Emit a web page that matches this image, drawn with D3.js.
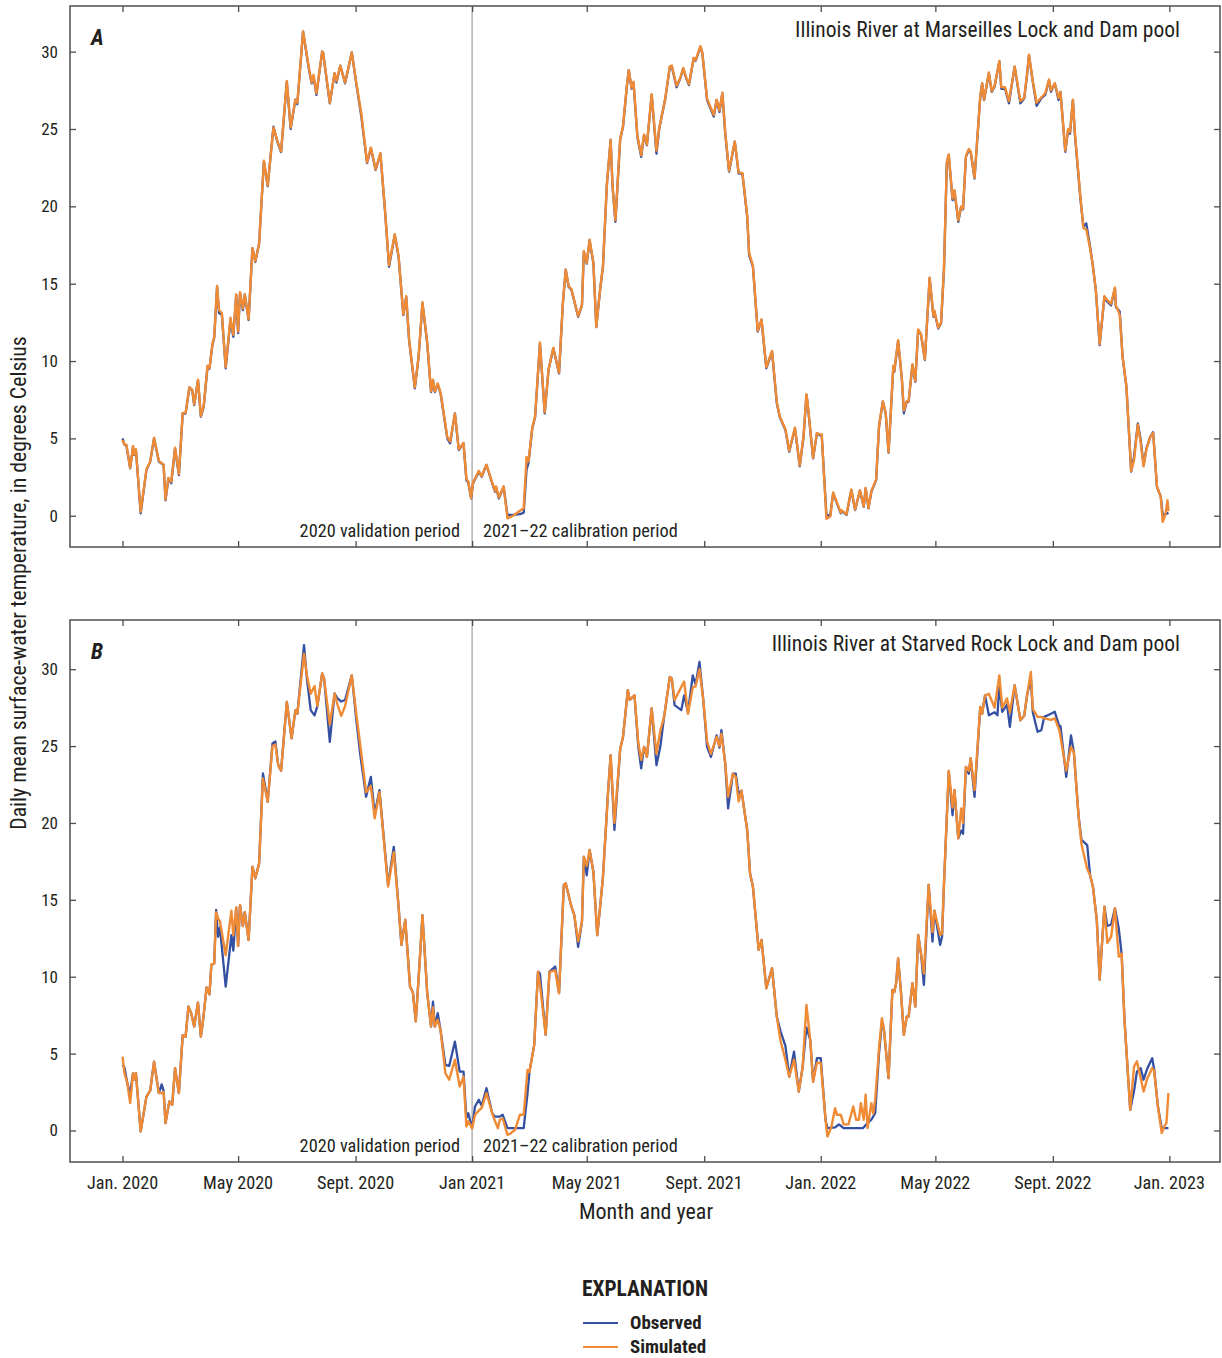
<!DOCTYPE html>
<html>
<head>
<meta charset="utf-8">
<script src="https://cdn.jsdelivr.net/npm/d3@7"></script>
<style>
  body { margin: 0; background: #fff; }
  svg { display: block; }
  text { font-family: "Liberation Sans Narrow", "Roboto Condensed", "DejaVu Sans Condensed", Roboto, sans-serif; font-stretch: condensed; fill: #231f20; }
</style>
</head>
<body>
<svg id="chart" width="1222" height="1358"></svg>
<script>
// ---------------- DATA ----------------
// day offsets from 2020-01-01, value in degrees Celsius
const baseDate = "2020-01-01";
const tickDates = ["2020-01-01","2020-05-01","2020-09-01","2021-01-01","2021-05-01","2021-09-01","2022-01-01","2022-05-01","2022-09-01","2023-01-01"];
const tickLabels = ["Jan. 2020","May 2020","Sept. 2020","Jan 2021","May 2021","Sept. 2021","Jan. 2022","May 2022","Sept. 2022","Jan. 2023"];
const yTicks = [0,5,10,15,20,25,30];
const periodSplit = "2021-01-01";
const panelTitles = ["Illinois River at Marseilles Lock and Dam pool", "Illinois River at Starved Rock Lock and Dam pool"];
const panelLetters = ["A","B"];
const seriesNames = ["Observed","Simulated"];

const aObs = [[0,5.0],[2,4.6],[4,4.55],[8,3.06],[11,4.46],[12,3.92],[14,4.25],[19,0.15],[25,2.95],[29,3.5],[33,5.0],[38,3.5],[43,3.28],[45,1.0],[48,2.4],[51,2.1],[55,4.35],[59,2.63],[63,6.6],[66,6.6],[70,8.3],[73,8.1],[75,7.15],[79,8.77],[82,6.4],[85,7.05],[89,9.63],[91,9.5],[94,11.0],[96,11.5],[99,14.8],[101,13.1],[104,13.0],[108,9.53],[113,12.65],[116,11.57],[119,14.27],[121,11.8],[123,14.4],[126,13.3],[128,14.3],[132,12.65],[136,17.3],[139,16.4],[143,17.6],[148,22.9],[152,21.3],[158,25.15],[162,24.2],[166,23.5],[172,28.05],[176,25.0],[181,26.9],[183,26.6],[189,31.3],[195,28.9],[198,27.95],[200,28.4],[203,27.2],[209,30.0],[210,29.9],[217,26.66],[222,28.6],[224,28.0],[228,29.1],[233,27.95],[240,29.95],[245,27.8],[250,25.8],[256,22.8],[260,23.75],[265,22.35],[270,23.4],[275,19.55],[279,16.1],[285,18.15],[289,16.75],[294,12.97],[297,14.15],[300,11.35],[306,8.23],[310,10.28],[314,13.73],[319,11.14],[323,8.0],[325,8.77],[327,8.0],[330,8.5],[333,7.9],[340,5.0],[343,4.68],[348,6.62],[352,4.25],[357,4.68],[360,2.3],[362,2.15],[365,1.12],[367,2.1],[373,2.85],[376,2.52],[381,3.28],[387,2.1],[390,1.55],[391,1.85],[394,1.12],[399,1.87],[403,0.05],[409,0.05],[416,0.1],[420,0.2],[423,3.0],[425,3.4],[429,5.65],[432,6.4],[437,11.14],[442,6.62],[446,9.42],[451,10.82],[457,9.2],[461,13.73],[464,15.9],[467,14.8],[470,14.6],[477,12.86],[481,13.6],[483,17.07],[486,16.3],[489,17.8],[493,16.3],[496,12.2],[500,14.6],[503,16.1],[507,21.3],[511,24.3],[513,21.3],[516,19.0],[521,24.3],[524,25.15],[528,27.73],[530,28.8],[533,27.6],[535,28.0],[539,24.5],[543,23.2],[546,24.6],[549,23.96],[554,27.2],[559,23.4],[562,25.05],[568,26.87],[573,29.0],[575,29.05],[580,27.7],[584,28.27],[587,28.9],[590,28.3],[593,27.84],[598,29.57],[600,29.4],[605,30.3],[607,29.9],[612,26.87],[615,26.4],[619,25.8],[622,26.87],[625,26.1],[628,27.3],[631,24.7],[635,22.24],[641,24.18],[645,22.13],[649,22.1],[654,19.33],[656,16.85],[660,16.1],[665,11.9],[669,12.65],[674,9.53],[680,10.6],[685,7.27],[688,6.4],[694,5.54],[698,4.14],[704,5.65],[709,3.2],[713,5.1],[716,7.8],[717,7.4],[723,3.71],[727,5.33],[730,5.2],[732,5.22],[737,0.0],[741,0.05],[744,1.45],[748,0.8],[752,0.15],[753,0.3],[758,0.05],[763,1.66],[767,0.37],[772,1.62],[776,0.58],[778,1.77],[781,0.48],[784,1.55],[789,2.3],[792,5.75],[796,7.37],[799,6.62],[802,4.07],[807,9.63],[808,9.3],[812,11.3],[816,8.77],[818,6.62],[821,7.37],[823,7.37],[827,9.74],[830,8.66],[833,12.0],[836,11.7],[840,10.06],[845,15.35],[849,12.86],[850,13.2],[854,12.1],[857,12.45],[860,15.9],[863,22.8],[865,23.3],[869,20.4],[871,21.0],[875,19.0],[878,19.97],[880,19.8],[883,23.2],[886,23.64],[888,23.5],[892,21.8],[898,27.08],[900,27.95],[902,26.87],[907,28.6],[910,27.4],[913,27.75],[918,29.35],[920,27.6],[924,27.6],[928,26.66],[934,29.02],[940,26.66],[944,26.97],[947,28.5],[949,29.78],[953,28.05],[957,26.5],[962,27.0],[966,27.2],[970,28.16],[972,27.4],[976,27.95],[980,26.87],[982,27.4],[987,23.53],[990,24.93],[992,24.7],[995,26.87],[997,24.7],[1003,20.4],[1006,18.68],[1009,18.9],[1013,17.39],[1016,16.1],[1019,14.59],[1023,11.03],[1028,14.15],[1030,13.9],[1035,13.6],[1039,14.7],[1040,13.5],[1044,13.2],[1047,10.28],[1051,8.34],[1056,2.85],[1059,3.82],[1063,5.97],[1066,4.9],[1069,3.28],[1072,4.36],[1076,5.1],[1079,5.4],[1083,1.87],[1087,1.23],[1089,0.05],[1092,0.1],[1094,0.15],[1095,0.2]];

const aSim = [[0,4.9],[2,4.6],[4,4.6],[8,3.1],[11,4.5],[12,3.95],[14,4.3],[19,0.25],[25,3.0],[29,3.5],[33,5.05],[38,3.55],[43,3.3],[45,1.05],[48,2.45],[51,2.2],[55,4.4],[59,2.7],[63,6.65],[66,6.65],[70,8.3],[73,8.15],[75,7.2],[79,8.8],[82,6.45],[85,7.1],[89,9.7],[91,9.55],[94,11.05],[96,11.55],[99,14.85],[101,13.3],[104,13.1],[108,9.6],[113,12.8],[116,11.7],[119,14.3],[121,11.9],[123,14.45],[126,13.4],[128,14.3],[132,12.7],[136,17.3],[139,16.45],[143,17.6],[148,22.95],[152,21.35],[158,25.1],[162,24.25],[166,23.55],[172,28.1],[176,25.1],[181,26.9],[183,26.7],[189,31.3],[195,29.0],[198,28.0],[200,28.5],[203,27.3],[209,30.0],[210,29.95],[217,26.7],[222,28.6],[224,28.1],[228,29.1],[233,28.0],[240,29.95],[245,27.9],[250,26.0],[256,22.85],[260,23.8],[265,22.4],[270,23.45],[275,19.6],[279,16.2],[285,18.2],[289,16.8],[294,13.0],[297,14.2],[300,11.4],[306,8.3],[310,10.3],[314,13.8],[319,11.2],[323,8.05],[325,8.8],[327,8.05],[330,8.55],[333,7.95],[340,5.1],[343,4.8],[348,6.6],[352,4.3],[357,4.7],[360,2.4],[362,2.2],[365,1.15],[367,2.15],[373,2.9],[376,2.55],[381,3.3],[387,2.15],[390,1.6],[391,1.9],[394,1.2],[399,1.9],[403,-0.17],[409,0.0],[416,0.32],[420,0.48],[423,3.8],[425,3.5],[429,5.7],[432,6.45],[437,11.2],[442,6.7],[446,9.45],[451,10.85],[457,9.25],[461,13.75],[464,15.9],[467,14.85],[470,14.65],[477,12.9],[481,13.65],[483,17.1],[486,16.35],[489,17.85],[493,16.35],[496,12.2],[500,14.65],[503,16.15],[507,21.35],[511,24.3],[513,21.35],[516,19.1],[521,24.35],[524,25.2],[528,27.8],[530,28.8],[533,27.65],[535,28.05],[539,24.6],[543,23.3],[546,24.65],[549,24.0],[554,27.25],[559,23.6],[562,25.1],[568,26.9],[573,29.05],[575,29.1],[580,27.8],[584,28.3],[587,28.95],[590,28.35],[593,27.9],[598,29.6],[600,29.45],[605,30.35],[607,29.95],[612,26.95],[615,26.5],[619,25.9],[622,26.9],[625,26.2],[628,27.35],[631,24.8],[635,22.3],[641,24.2],[645,22.2],[649,22.15],[654,19.4],[656,17.0],[660,16.15],[665,11.95],[669,12.7],[674,9.6],[680,10.65],[685,7.35],[688,6.45],[694,5.6],[698,4.2],[704,5.7],[709,3.25],[713,5.15],[716,7.85],[717,7.45],[723,3.75],[727,5.35],[730,5.25],[732,5.25],[737,-0.2],[741,-0.05],[744,1.5],[748,0.85],[752,0.2],[753,0.35],[758,0.1],[763,1.7],[767,0.4],[772,1.65],[776,0.6],[778,1.8],[781,0.5],[784,1.6],[789,2.35],[792,5.8],[796,7.4],[799,6.65],[802,4.1],[807,9.7],[808,9.35],[812,11.35],[816,8.8],[818,6.8],[821,7.4],[823,7.4],[827,9.8],[830,8.7],[833,12.05],[836,11.75],[840,10.1],[845,15.4],[849,12.9],[850,13.25],[854,12.15],[857,12.5],[860,15.95],[863,22.85],[865,23.35],[869,20.5],[871,21.05],[875,19.1],[878,20.0],[880,19.85],[883,23.25],[886,23.7],[888,23.55],[892,21.85],[898,27.1],[900,27.95],[902,26.9],[907,28.65],[910,27.45],[913,27.8],[918,29.4],[920,27.7],[924,27.7],[928,26.8],[934,29.05],[940,26.8],[944,27.0],[947,28.55],[949,29.8],[953,28.1],[957,26.7],[962,27.05],[966,27.3],[970,28.2],[972,27.5],[976,27.95],[980,27.0],[982,27.4],[987,23.6],[990,25.0],[992,24.8],[995,26.9],[997,24.8],[1003,20.5],[1006,18.6],[1009,18.5],[1013,17.3],[1016,16.1],[1019,14.6],[1023,11.1],[1028,14.2],[1030,14.0],[1035,13.7],[1039,14.75],[1040,13.6],[1044,13.0],[1047,10.3],[1051,8.4],[1056,2.9],[1059,3.6],[1063,5.9],[1066,4.7],[1069,3.2],[1072,4.3],[1076,5.1],[1079,5.35],[1083,1.9],[1087,1.2],[1089,-0.39],[1092,0.1],[1094,1.0],[1095,0.3]];

const bObs = [[0,4.27],[2,4.1],[5,3.08],[8,2.4],[11,3.73],[12,3.3],[14,3.73],[19,-0.06],[25,2.2],[29,2.6],[33,4.48],[38,2.43],[41,3.0],[43,2.6],[45,0.48],[49,1.89],[52,1.67],[55,4.05],[59,2.43],[63,6.2],[66,6.1],[69,8.06],[72,7.6],[75,6.76],[79,8.32],[82,6.1],[84,7.0],[88,9.3],[91,8.85],[93,10.77],[96,10.87],[98,14.34],[100,12.6],[102,13.2],[108,9.36],[114,12.7],[116,11.7],[119,14.5],[121,12.0],[123,14.66],[126,13.3],[128,14.2],[132,12.39],[136,17.15],[139,16.4],[143,17.37],[147,23.22],[152,21.38],[157,25.17],[160,25.3],[163,23.76],[166,23.4],[172,27.87],[177,25.5],[181,27.34],[183,27.1],[190,31.56],[193,29.4],[197,27.34],[201,27.0],[204,27.6],[209,29.72],[211,29.4],[217,25.28],[222,28.42],[225,28.1],[229,27.9],[233,28.0],[240,29.6],[245,26.57],[249,24.4],[255,21.7],[260,23.0],[264,20.6],[269,22.14],[278,15.97],[284,18.45],[289,14.55],[292,12.07],[296,13.7],[301,9.36],[304,8.98],[307,7.1],[311,10.88],[314,14.0],[319,8.93],[323,6.76],[325,8.38],[327,6.76],[330,7.63],[333,6.5],[338,4.27],[342,4.2],[348,5.78],[353,3.83],[357,3.83],[360,0.8],[362,1.12],[366,0.15],[369,1.56],[373,2.0],[376,1.6],[381,2.75],[387,1.12],[390,0.9],[395,0.9],[398,1.02],[403,0.15],[411,0.15],[420,0.15],[424,2.43],[426,3.8],[431,5.57],[435,10.33],[437,10.2],[443,6.22],[447,10.33],[453,10.66],[457,8.93],[462,15.97],[464,16.07],[467,15.3],[470,14.55],[473,14.0],[477,11.95],[481,13.58],[483,17.8],[486,16.6],[489,18.24],[493,16.8],[497,12.7],[500,14.55],[503,16.5],[508,21.7],[511,24.4],[515,19.54],[521,24.8],[524,25.6],[529,28.64],[531,28.0],[536,28.3],[540,24.95],[543,23.55],[546,24.95],[549,24.3],[554,27.45],[559,23.76],[563,24.95],[567,26.9],[573,29.5],[575,29.4],[578,27.66],[585,27.34],[588,28.3],[592,27.2],[597,29.6],[600,29.0],[604,30.47],[608,28.0],[612,24.95],[616,24.3],[622,25.7],[625,24.9],[627,26.04],[631,23.87],[634,20.95],[639,23.2],[642,23.2],[645,21.9],[648,22.1],[654,19.54],[657,16.72],[660,15.85],[666,11.74],[669,12.39],[674,9.25],[680,10.55],[685,7.4],[689,6.43],[694,5.5],[698,3.5],[703,5.13],[708,2.53],[712,4.1],[716,6.7],[720,5.89],[723,3.18],[727,4.7],[731,4.7],[736,0.7],[738,0.15],[746,0.2],[750,0.4],[755,0.15],[775,0.15],[780,0.48],[784,0.7],[788,1.13],[792,5.0],[795,7.0],[797,6.65],[802,3.4],[806,9.14],[808,9.0],[810,9.6],[812,11.2],[815,9.0],[818,6.22],[821,7.4],[823,7.4],[827,9.58],[830,8.06],[833,12.72],[836,11.5],[839,9.47],[844,15.97],[848,12.28],[850,14.3],[856,12.07],[858,12.6],[860,16.0],[865,23.33],[869,20.5],[871,22.14],[875,19.0],[878,19.5],[880,19.3],[883,23.65],[886,23.2],[888,24.2],[892,21.7],[898,27.55],[900,27.1],[903,28.3],[907,27.0],[913,27.2],[916,27.0],[918,29.0],[921,27.23],[926,27.7],[929,26.25],[934,28.96],[940,26.68],[944,26.97],[947,28.3],[951,29.4],[953,27.2],[958,25.93],[962,26.04],[965,26.9],[972,27.1],[976,27.23],[981,26.25],[982,26.3],[988,23.0],[993,25.7],[996,24.6],[1001,20.4],[1004,18.9],[1010,18.56],[1013,16.6],[1016,15.85],[1020,13.7],[1023,9.8],[1028,14.55],[1031,13.3],[1035,13.4],[1039,14.45],[1043,13.15],[1046,11.5],[1049,7.19],[1055,1.34],[1059,2.57],[1062,3.83],[1066,4.05],[1069,3.3],[1073,4.05],[1078,4.7],[1080,4.0],[1084,1.56],[1088,0.15],[1095,0.15]];

const bSim = [[0,4.8],[2,3.73],[5,3.08],[8,1.78],[11,3.73],[12,3.3],[14,3.73],[19,-0.06],[25,2.2],[29,2.6],[33,4.48],[38,2.43],[41,2.43],[43,2.5],[45,0.48],[49,1.89],[52,1.67],[55,4.05],[59,2.43],[63,6.2],[66,6.1],[69,8.06],[72,7.6],[75,6.76],[79,8.32],[82,6.1],[84,7.0],[88,9.3],[91,8.85],[93,10.77],[96,10.87],[98,14.2],[100,13.8],[102,13.6],[108,11.4],[114,14.3],[116,12.7],[119,14.5],[121,12.0],[123,14.66],[126,13.3],[128,14.2],[132,12.39],[136,17.15],[139,16.4],[143,17.37],[147,22.9],[152,21.38],[157,25.0],[160,25.1],[163,23.76],[166,23.4],[172,27.87],[177,25.5],[181,27.34],[183,27.1],[190,31.0],[193,29.6],[197,28.4],[201,28.9],[204,27.6],[209,29.72],[211,29.4],[217,26.4],[222,28.42],[225,27.7],[229,26.97],[233,27.6],[240,29.6],[245,26.97],[249,25.0],[255,22.0],[260,22.4],[264,20.3],[269,22.0],[278,15.86],[284,18.1],[289,14.55],[292,12.07],[296,13.7],[301,9.36],[304,8.98],[307,7.1],[311,10.88],[314,14.0],[319,8.93],[323,6.76],[325,8.0],[327,6.76],[330,7.2],[333,6.5],[338,3.73],[342,3.3],[348,4.6],[353,2.86],[357,3.5],[360,0.26],[362,0.6],[366,0.15],[369,1.0],[373,1.3],[376,1.45],[381,2.43],[387,1.12],[390,0.6],[393,0.15],[395,0.7],[398,0.78],[403,-0.28],[406,-0.2],[411,0.05],[416,1.02],[420,1.02],[424,3.94],[426,3.8],[431,5.57],[435,10.33],[437,9.5],[443,6.22],[447,10.33],[453,10.4],[457,8.93],[462,15.97],[464,16.07],[467,15.3],[470,14.55],[473,14.0],[477,12.3],[481,13.58],[483,17.8],[486,17.2],[489,18.24],[493,16.8],[497,12.7],[500,14.55],[503,16.5],[508,21.7],[511,24.4],[515,20.0],[521,24.8],[524,25.6],[529,28.64],[531,28.0],[536,28.3],[540,25.2],[543,24.1],[546,24.95],[549,24.3],[554,27.45],[559,24.5],[563,26.0],[567,26.9],[573,29.5],[575,29.4],[578,28.0],[585,28.85],[588,29.2],[592,27.1],[597,28.8],[600,28.9],[604,30.0],[608,28.0],[612,25.3],[616,24.5],[622,25.6],[625,25.0],[627,25.8],[631,23.87],[634,21.7],[639,23.2],[642,23.0],[645,21.4],[648,22.1],[654,19.54],[657,16.72],[660,15.85],[666,11.74],[669,12.39],[674,9.25],[680,10.55],[685,7.4],[689,5.8],[694,4.6],[698,3.5],[703,4.6],[708,2.53],[712,4.1],[716,8.17],[720,5.89],[723,3.18],[727,4.4],[731,4.4],[736,0.7],[738,-0.39],[742,0.2],[746,1.45],[748,1.02],[752,1.02],[755,0.4],[760,0.4],[765,1.56],[768,0.7],[771,0.7],[773,1.78],[776,0.7],[778,2.32],[780,0.15],[784,1.78],[786,1.1],[788,2.0],[792,5.35],[795,7.3],[797,6.65],[802,3.4],[806,9.14],[808,9.0],[810,9.6],[812,11.2],[815,9.0],[818,6.22],[821,7.4],[823,7.4],[827,9.58],[830,8.06],[833,12.72],[836,11.5],[839,10.2],[844,15.97],[848,12.9],[850,14.3],[856,12.72],[858,12.8],[860,16.0],[865,23.4],[869,21.0],[871,22.14],[875,19.0],[878,20.95],[880,20.0],[883,23.65],[886,23.4],[888,24.2],[892,22.14],[898,27.55],[900,27.1],[903,28.3],[907,28.4],[913,27.5],[918,29.6],[921,27.5],[926,28.1],[929,27.2],[934,28.96],[940,26.68],[944,26.97],[947,28.3],[951,29.82],[953,27.4],[958,26.9],[962,26.9],[965,26.8],[972,26.7],[976,26.8],[981,26.0],[982,25.6],[988,23.4],[993,24.95],[996,24.6],[1001,20.4],[1004,18.6],[1010,17.0],[1013,16.6],[1016,15.85],[1020,13.7],[1023,9.8],[1028,14.55],[1031,12.2],[1035,12.6],[1039,14.45],[1043,11.3],[1046,11.5],[1049,7.19],[1055,1.34],[1059,4.16],[1062,4.5],[1066,3.4],[1069,2.53],[1073,3.4],[1078,4.05],[1080,3.9],[1084,1.56],[1088,-0.17],[1091,0.3],[1093,0.5],[1095,2.43]];

// ---------------- LAYOUT ----------------
const COLORS = { obs: "#3450a3", sim: "#ef8a35", frame: "#4d4d4f", split: "#b3b3b3", text: "#231f20" };
const svg = d3.select("#chart");
const left = 70, right = 1220;
const panels = [
  { top: 6, bottom: 547, domain: [-2.02, 32.95], obs: aObs, sim: aSim },
  { top: 620, bottom: 1162, domain: [-2.05, 33.2], obs: bObs, sim: bSim }
];
const parse = d3.timeParse("%Y-%m-%d");
const base = parse(baseDate);
const x = d3.scaleTime().domain([parse("2019-11-07"), parse("2023-02-23")]).range([left, right]);
const toDate = d => d3.timeDay.offset(base, d);

panels.forEach((p, i) => {
  const y = d3.scaleLinear().domain(p.domain).range([p.bottom, p.top]);
  const g = svg.append("g");

  // split line
  g.append("line")
    .attr("x1", x(parse(periodSplit))).attr("x2", x(parse(periodSplit)))
    .attr("y1", p.top).attr("y2", p.bottom)
    .attr("stroke", COLORS.split).attr("stroke-width", 1.5);

  // ticks (inward) via axes
  const tickVals = tickDates.map(parse);
  const axB = d3.axisTop(x).tickValues(tickVals).tickSize(6).tickFormat("");
  const axT = d3.axisBottom(x).tickValues(tickVals).tickSize(6).tickFormat("");
  const axL = d3.axisRight(y).tickValues(yTicks).tickSize(6).tickFormat("");
  const axR = d3.axisLeft(y).tickValues(yTicks).tickSize(6).tickFormat("");
  [[axB, `translate(0,${p.bottom})`], [axT, `translate(0,${p.top})`], [axL, `translate(${left},0)`], [axR, `translate(${right},0)`]].forEach(([ax, tr]) => {
    const a = g.append("g").attr("transform", tr).call(ax);
    a.select(".domain").remove();
    a.selectAll("line").attr("stroke", COLORS.frame).attr("stroke-width", 1.3);
  });

  // y tick labels
  g.selectAll(".ylab").data(yTicks).join("text")
    .attr("x", 58).attr("y", d => y(d) + 6)
    .attr("text-anchor", "end").attr("font-size", 17).text(d => d);

  // lines
  const line = d3.line().x(d => x(toDate(d[0]))).y(d => y(d[1]));
  g.append("path").datum(p.obs).attr("d", line).attr("fill", "none")
    .attr("stroke", COLORS.obs).attr("stroke-width", 2.3).attr("stroke-linejoin", "round");
  g.append("path").datum(p.sim).attr("d", line).attr("fill", "none")
    .attr("stroke", COLORS.sim).attr("stroke-width", 2.4).attr("stroke-linejoin", "round");

  // frame
  g.append("rect").attr("x", left).attr("y", p.top).attr("width", right - left).attr("height", p.bottom - p.top)
    .attr("fill", "none").attr("stroke", COLORS.frame).attr("stroke-width", 1.5);

  // panel letter & title
  g.append("text").attr("x", 91).attr("y", p.top + 39)
    .attr("font-size", 22).attr("font-weight", "bold").attr("font-style", "italic").text(panelLetters[i]);
  g.append("text").attr("x", 1180).attr("y", p.top + 31)
    .attr("text-anchor", "end").attr("font-size", 21.5).text(panelTitles[i]);

  // period labels
  g.append("text").attr("x", 460).attr("y", p.bottom - 10).attr("text-anchor", "end")
    .attr("font-size", 18.3).text("2020 validation period");
  g.append("text").attr("x", 483).attr("y", p.bottom - 10)
    .attr("font-size", 18.3).text("2021\u201322 calibration period");

  if (i === 1) {
    g.selectAll(".xlab").data(tickVals).join("text")
      .attr("x", d => x(d)).attr("y", p.bottom + 27)
      .attr("text-anchor", "middle").attr("font-size", 18.2)
      .text((d, k) => tickLabels[k]);
  }
});

// axis titles
svg.append("text").attr("x", 646).attr("y", 1219).attr("text-anchor", "middle")
  .attr("font-size", 22).text("Month and year");
svg.append("text").attr("transform", "translate(26,583) rotate(-90)").attr("text-anchor", "middle")
  .attr("font-size", 21.8).text("Daily mean surface-water temperature, in degrees Celsius");

// legend
svg.append("text").attr("x", 645).attr("y", 1296).attr("text-anchor", "middle")
  .attr("font-size", 21.4).attr("font-weight", "bold").text("EXPLANATION");
const legend = svg.append("g");
[[COLORS.obs, seriesNames[0], 1323], [COLORS.sim, seriesNames[1], 1347]].forEach(([c, t, yy]) => {
  legend.append("line").attr("x1", 583).attr("x2", 618).attr("y1", yy).attr("y2", yy)
    .attr("stroke", c).attr("stroke-width", 2);
  legend.append("text").attr("x", 630).attr("y", yy + 6).attr("font-size", 18.9)
    .attr("font-weight", "bold").text(t);
});
</script>
</body>
</html>
